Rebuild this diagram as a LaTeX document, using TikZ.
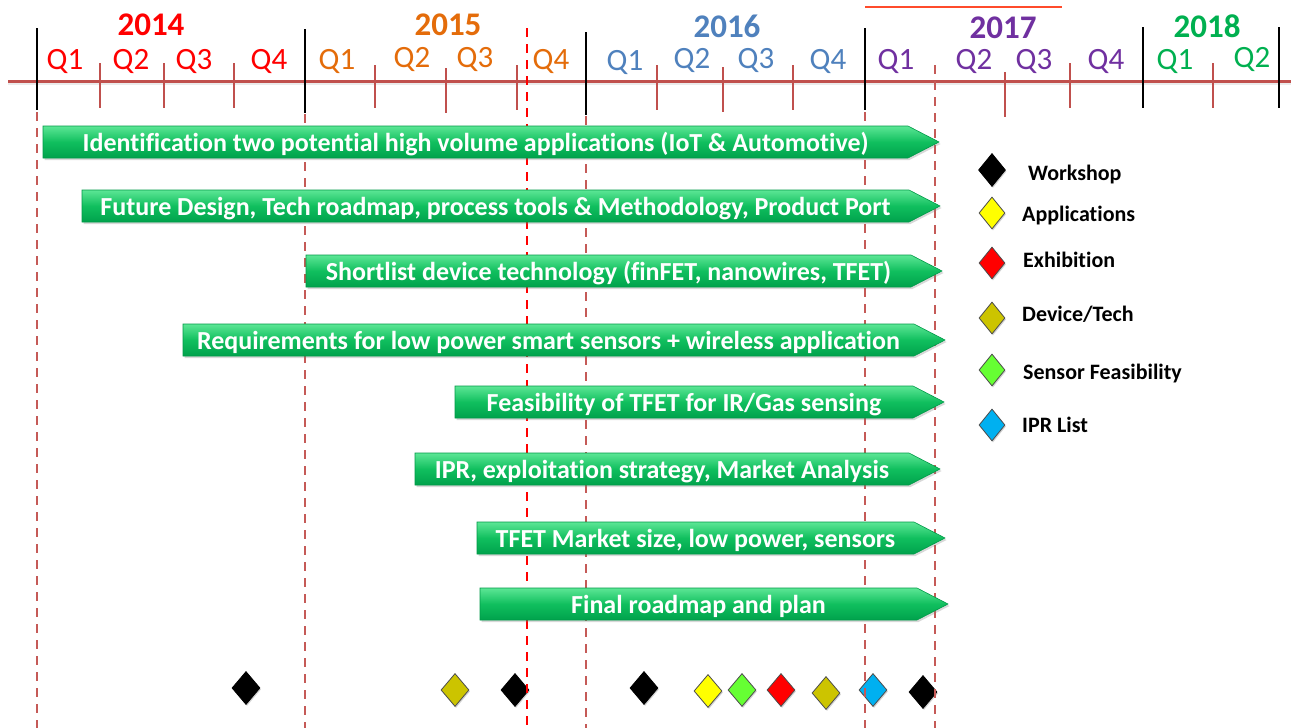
\documentclass[tikz,border=0pt]{standalone}
\usepackage{fontspec}
\setmainfont{Carlito}[Ligatures={NoCommon}]
\usetikzlibrary{shapes.geometric,shadows,decorations.pathmorphing}

\definecolor{y14}{HTML}{FF0000}
\definecolor{y15}{HTML}{E46C0A}
\definecolor{y16}{HTML}{4F81BD}
\definecolor{y17}{HTML}{7030A0}
\definecolor{y18}{HTML}{00B050}
\definecolor{axisred}{HTML}{C0504D}
\definecolor{guidered}{HTML}{C55A57}
\definecolor{markred}{HTML}{FF0000}
\definecolor{topline}{HTML}{FF4B2B}
\definecolor{barlight}{HTML}{5CE695}
\definecolor{barmid}{HTML}{10BF5E}
\definecolor{bardark}{HTML}{00A24C}
\definecolor{baredge}{HTML}{009A48}
\definecolor{mkyellow}{HTML}{FFFF00}
\definecolor{mkred}{HTML}{FF0000}
\definecolor{mkolive}{HTML}{CCC400}
\definecolor{mkgreen}{HTML}{66FF33}
\definecolor{mkblue}{HTML}{00B0F0}

\newcommand\barfont{\fontsize{26}{30}\selectfont\bfseries}
\newlength\wavepre
\newlength\wavelen

% task bar: name, left x, tip x, centre y, label
\newcommand\taskarrow[5]{%
  \path[taskbar] (#2,#4-16) -- (#3-31,#4-16) -- (#3,#4) -- (#3-31,#4+16) -- (#2,#4+16) -- cycle;
  \node[tasktext] (#1) at ({(#2+#3-31)/2},#4+9) {#5};
}
% spell-check wave under a word: node, text before the word, word
\newcommand\spellwave[3]{%
  \settowidth{\wavepre}{\barfont #2}%
  \settowidth{\wavelen}{\barfont #3}%
  \draw[red, line width=0.8pt, decorate, decoration={snake, amplitude=1pt, segment length=3.5pt}]
    ([xshift=\wavepre, yshift=-3.5pt]#1.base west) -- ++(\wavelen,0);
}

\begin{document}
\begin{tikzpicture}[x=1pt,y=-1pt,
  year/.style={font=\fontsize{33}{36}\selectfont\bfseries, anchor=base, inner sep=0pt},
  qlabel/.style={font=\fontsize{31}{34}\selectfont, anchor=base, inner sep=0pt},
  tick/.style={draw=axisred, line width=2.5pt},
  yearsep/.style={draw=black, line width=2.6pt},
  guide/.style={draw=guidered, line width=2.6pt, dash pattern=on 9pt off 7pt},
  redguide/.style={draw=markred, line width=2.6pt, dash pattern=on 9pt off 7pt},
  taskbar/.style={top color=barlight, bottom color=bardark, middle color=barmid,
    draw=baredge, line width=0.6pt,
    drop shadow={opacity=0.3, shadow xshift=1.5pt, shadow yshift=-2pt}},
  tasktext/.style={text=white, font=\barfont, anchor=base, inner sep=0pt},
  mk/.style={diamond, minimum width=28pt, minimum height=33pt, inner sep=0pt,
    draw=black!70, line width=0.8pt,
    drop shadow={opacity=0.35, shadow xshift=1pt, shadow yshift=-1.5pt}},
  mkblack/.style={mk, fill=black, draw=black},
  lgmk/.style={mk, minimum width=26pt, minimum height=32pt},
  legendtext/.style={font=\fontsize{22}{26}\selectfont\bfseries, anchor=base west, inner sep=0pt, text=black}
]
\useasboundingbox (0,0) rectangle (1291,728);
\fill[white] (0,0) rectangle (1291,728);

% bar above 2017
\draw[topline, line width=2pt] (865,7) -- (1062,7);

% time axis
\draw[black!8, line width=3pt] (8,83.5) -- (1291,83.5);
\draw[axisred, line width=3pt] (8,81) -- (1291,81);

% milestones along the bottom
\node[mkblack] (m1) at (246,688) {};
\node[mk, fill=mkolive] (m2) at (455,690) {};
\node[mkblack] (m3) at (515,690) {};
\node[mkblack] (m4) at (644,688) {};
\node[mk, fill=mkyellow] (m5) at (708,691) {};
\node[mk, fill=mkgreen] (m6) at (742,690) {};
\node[mk, fill=mkred] (m7) at (781,690) {};
\node[mk, fill=mkolive] (m8) at (826,693) {};
\node[mk, fill=mkblue] (m9) at (873,690) {};
\node[mkblack] (m10) at (923,692) {};

% dashed guides
\draw[guide] (37,112) -- (37,728);
\draw[guide] (305,114) -- (305,728);
\draw[guide] (586,116) -- (586,728);
\draw[guide] (865,112) -- (865,728);
\draw[guide] (935,65) -- (935,728);
\draw[redguide] (527,28) -- (527,728);

% quarter ticks
\foreach \x/\a/\b in {100/63/108, 164/63/108, 234/63/108,
                      375/65/108, 446/68/113, 517/65/110,
                      657/65/110, 723/67/112, 793/65/110,
                      1005/72/117, 1070/63/108, 1213/63/108}
  \draw[tick] (\x,\a) -- (\x,\b);

% year boundaries
\draw[yearsep] (37,28) -- (37,110);
\draw[yearsep] (305,29) -- (305,113);
\draw[yearsep] (586,32) -- (586,115);
\draw[yearsep] (865,28) -- (865,110);
\draw[yearsep] (1143,27) -- (1143,108);
\draw[yearsep] (1279,27) -- (1279,108);

% years
\node[year, text=y14] (y2014) at (151,35) {2014};
\node[year, text=y15] (y2015) at (448,35) {2015};
\node[year, text=y16] (y2016) at (727,37) {2016};
\node[year, text=y17] (y2017) at (1003,38) {2017};
\node[year, text=y18] (y2018) at (1207,37) {2018};

% quarters
\node[qlabel, text=y14] (q141) at (65,69) {Q1};
\node[qlabel, text=y14] (q142) at (131,69) {Q2};
\node[qlabel, text=y14] (q143) at (194,69) {Q3};
\node[qlabel, text=y14] (q144) at (269,69) {Q4};
\node[qlabel, text=y15] (q151) at (337,69) {Q1};
\node[qlabel, text=y15] (q152) at (412,67) {Q2};
\node[qlabel, text=y15] (q153) at (475,67) {Q3};
\node[qlabel, text=y15] (q154) at (551,69) {Q4};
\node[qlabel, text=y16] (q161) at (625,70) {Q1};
\node[qlabel, text=y16] (q162) at (692,68) {Q2};
\node[qlabel, text=y16] (q163) at (756,68) {Q3};
\node[qlabel, text=y16] (q164) at (828,69) {Q4};
\node[qlabel, text=y17] (q171) at (896,69) {Q1};
\node[qlabel, text=y17] (q172) at (974,69) {Q2};
\node[qlabel, text=y17] (q173) at (1034,69) {Q3};
\node[qlabel, text=y17] (q174) at (1106,69) {Q4};
\node[qlabel, text=y18] (q181) at (1175,69) {Q1};
\node[qlabel, text=y18] (q182) at (1252,67) {Q2};

% work items
\taskarrow{t1}{43}{939}{142}{Identification two potential high volume applications (IoT \& Automotive)}
\taskarrow{t2}{82}{940}{206}{Future Design, Tech roadmap, process tools \& Methodology, Product Port}
\taskarrow{t3}{306}{942}{271}{Shortlist device technology (finFET, nanowires, TFET)}
\taskarrow{t4}{183}{945}{340}{Requirements for low power smart sensors + wireless application}
\taskarrow{t5}{455}{944}{402}{Feasibility of TFET for IR/Gas sensing}
\taskarrow{t6}{415}{940}{469}{IPR, exploitation strategy, Market Analysis}
\taskarrow{t7}{477}{945}{538}{TFET Market size, low power, sensors}
\taskarrow{t8}{480}{948}{604}{Final roadmap and plan}
\spellwave{t1}{Identification two potential high volume applications (}{IoT}
\spellwave{t3}{Shortlist device technology (}{finFET}

% legend
\node[lgmk, fill=black, draw=black, minimum width=27pt, minimum height=33pt] (lg1) at (992,170) {};
\node[lgmk, fill=mkyellow] (lg2) at (992,213) {};
\node[lgmk, fill=mkred] (lg3) at (992,263) {};
\node[lgmk, fill=mkolive] (lg4) at (992,318) {};
\node[lgmk, fill=mkgreen] (lg5) at (992,370) {};
\node[lgmk, fill=mkblue] (lg6) at (992,425) {};
\node[legendtext] (lt1) at (1028,180) {Workshop};
\node[legendtext] (lt2) at (1022,221) {Applications};
\node[legendtext] (lt3) at (1023,267) {Exhibition};
\node[legendtext] (lt4) at (1022,321) {Device/Tech};
\node[legendtext] (lt5) at (1023,379) {Sensor Feasibility};
\node[legendtext] (lt6) at (1022,432) {IPR List};
\end{tikzpicture}
\end{document}
